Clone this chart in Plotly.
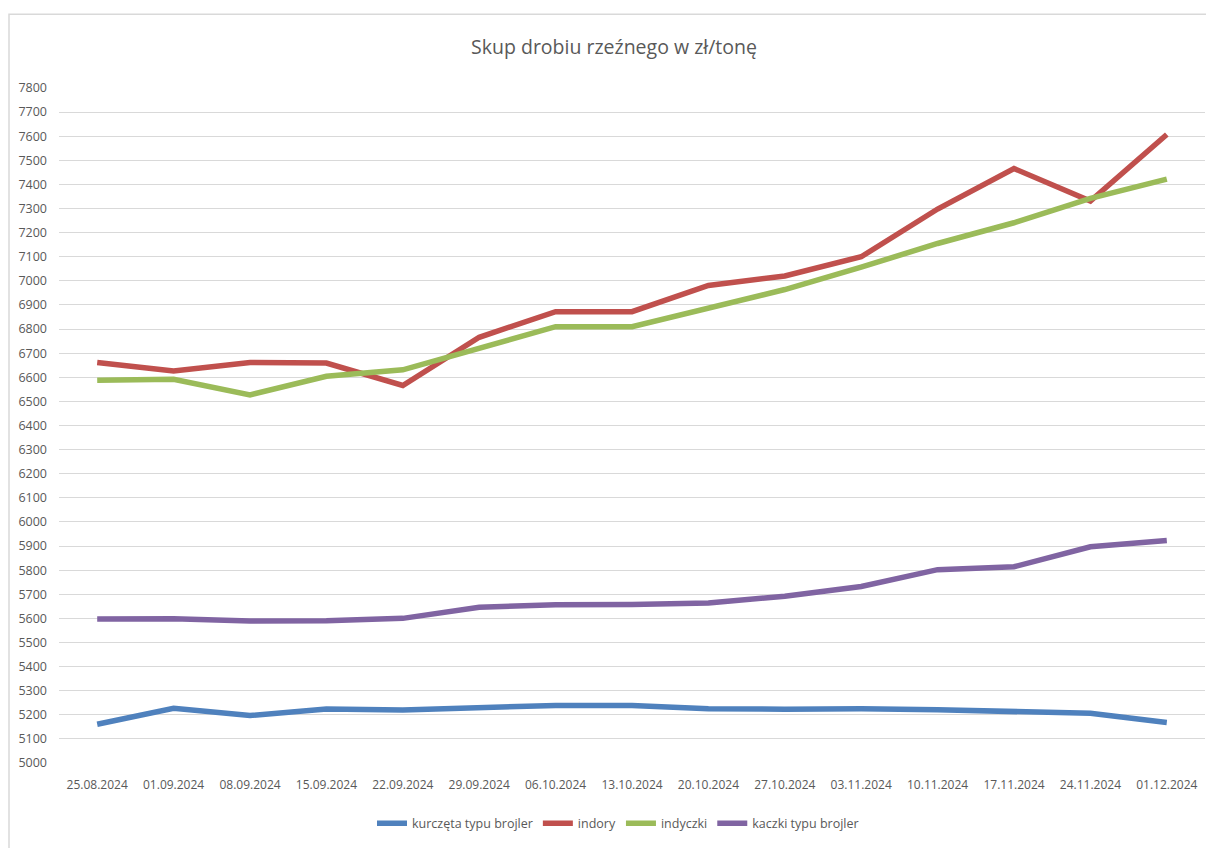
import plotly.graph_objects as go

dates = ["25.08.2024", "01.09.2024", "08.09.2024", "15.09.2024", "22.09.2024",
         "29.09.2024", "06.10.2024", "13.10.2024", "20.10.2024", "27.10.2024",
         "03.11.2024", "10.11.2024", "17.11.2024", "24.11.2024", "01.12.2024"]

kurczeta = [5161, 5227, 5197, 5224, 5220, 5232, 5239, 5239, 5225, 5223,
            5225, 5221, 5216, 5206, 5168]
indory = [6661, 6626, 6661, 6659, 6566, 6766, 6872, 6872, 6981, 7020,
          7100, 7298, 7466, 7331, 7607]
indyczki = [6588, 6592, 6527, 6604, 6631, 6719, 6810, 6810, 6886, 6964,
            7057, 7155, 7241, 7342, 7422]
kaczki = [5597, 5598, 5589, 5590, 5600, 5646, 5656, 5657, 5664, 5692,
          5732, 5802, 5814, 5897, 5923]

names = ["kurczęta typu brojler", "indory", "indyczki", "kaczki typu brojler"]
colors = ["#4F81BD", "#C0504D", "#9BBB59", "#8064A2"]
series = [kurczeta, indory, indyczki, kaczki]

yticks = list(range(5000, 7801, 100))

fig = go.Figure()
for name, color, vals in zip(names, colors, series):
    fig.add_trace(go.Scatter(
        x=dates, y=vals, name=name, mode="lines",
        line=dict(color=color, width=5.5, shape="linear"),
    ))

W, H = 1206, 840
L, T, B = 51, 80, 82
R = W - 1197
PH = H - T - B

fig.update_layout(
    width=W, height=H,
    margin=dict(l=L, r=R, t=T, b=B),
    paper_bgcolor="white", plot_bgcolor="white",
    title=dict(
        text="Skup drobiu rzeźnego w zł/tonę",
        x=606 / W, xanchor="center", xref="container",
        y=1 - 39 / H, yanchor="middle", yref="container",
        font=dict(family="Open Sans", size=19.5, color="#595959"),
    ),
    xaxis=dict(
        type="category", range=[-0.5, 14.5],
        showgrid=False, showline=False, zeroline=False,
        ticks="", tickfont=dict(family="Open Sans", size=12, color="#595959"),
        ticklabelstandoff=13,
    ),
    yaxis=dict(
        range=[5000, 7800], tickvals=yticks, ticktext=[str(v) for v in yticks],
        showgrid=True, gridcolor="#D9D9D9", gridwidth=1,
        zeroline=False, showline=False, ticks="",
        tickfont=dict(family="Open Sans", size=12.5, color="#595959"),
        ticklabelstandoff=11,
    ),
    legend=dict(
        orientation="h", x=(610 - L) / 1146, xanchor="center", y=-61 / PH, yanchor="middle",
        font=dict(family="Open Sans", size=12.5, color="#595959"),
        tracegroupgap=0,
    ),
    showlegend=True,
)

fig.add_shape(type="rect", xref="paper", yref="paper",
              x0=(1 - L) / 1146, x1=1.05, y0=-0.2, y1=(T + PH - 6) / PH,
              line=dict(color="#D9D9D9", width=1.5), fillcolor="rgba(0,0,0,0)", layer="below")

fig.write_html("out.html")
